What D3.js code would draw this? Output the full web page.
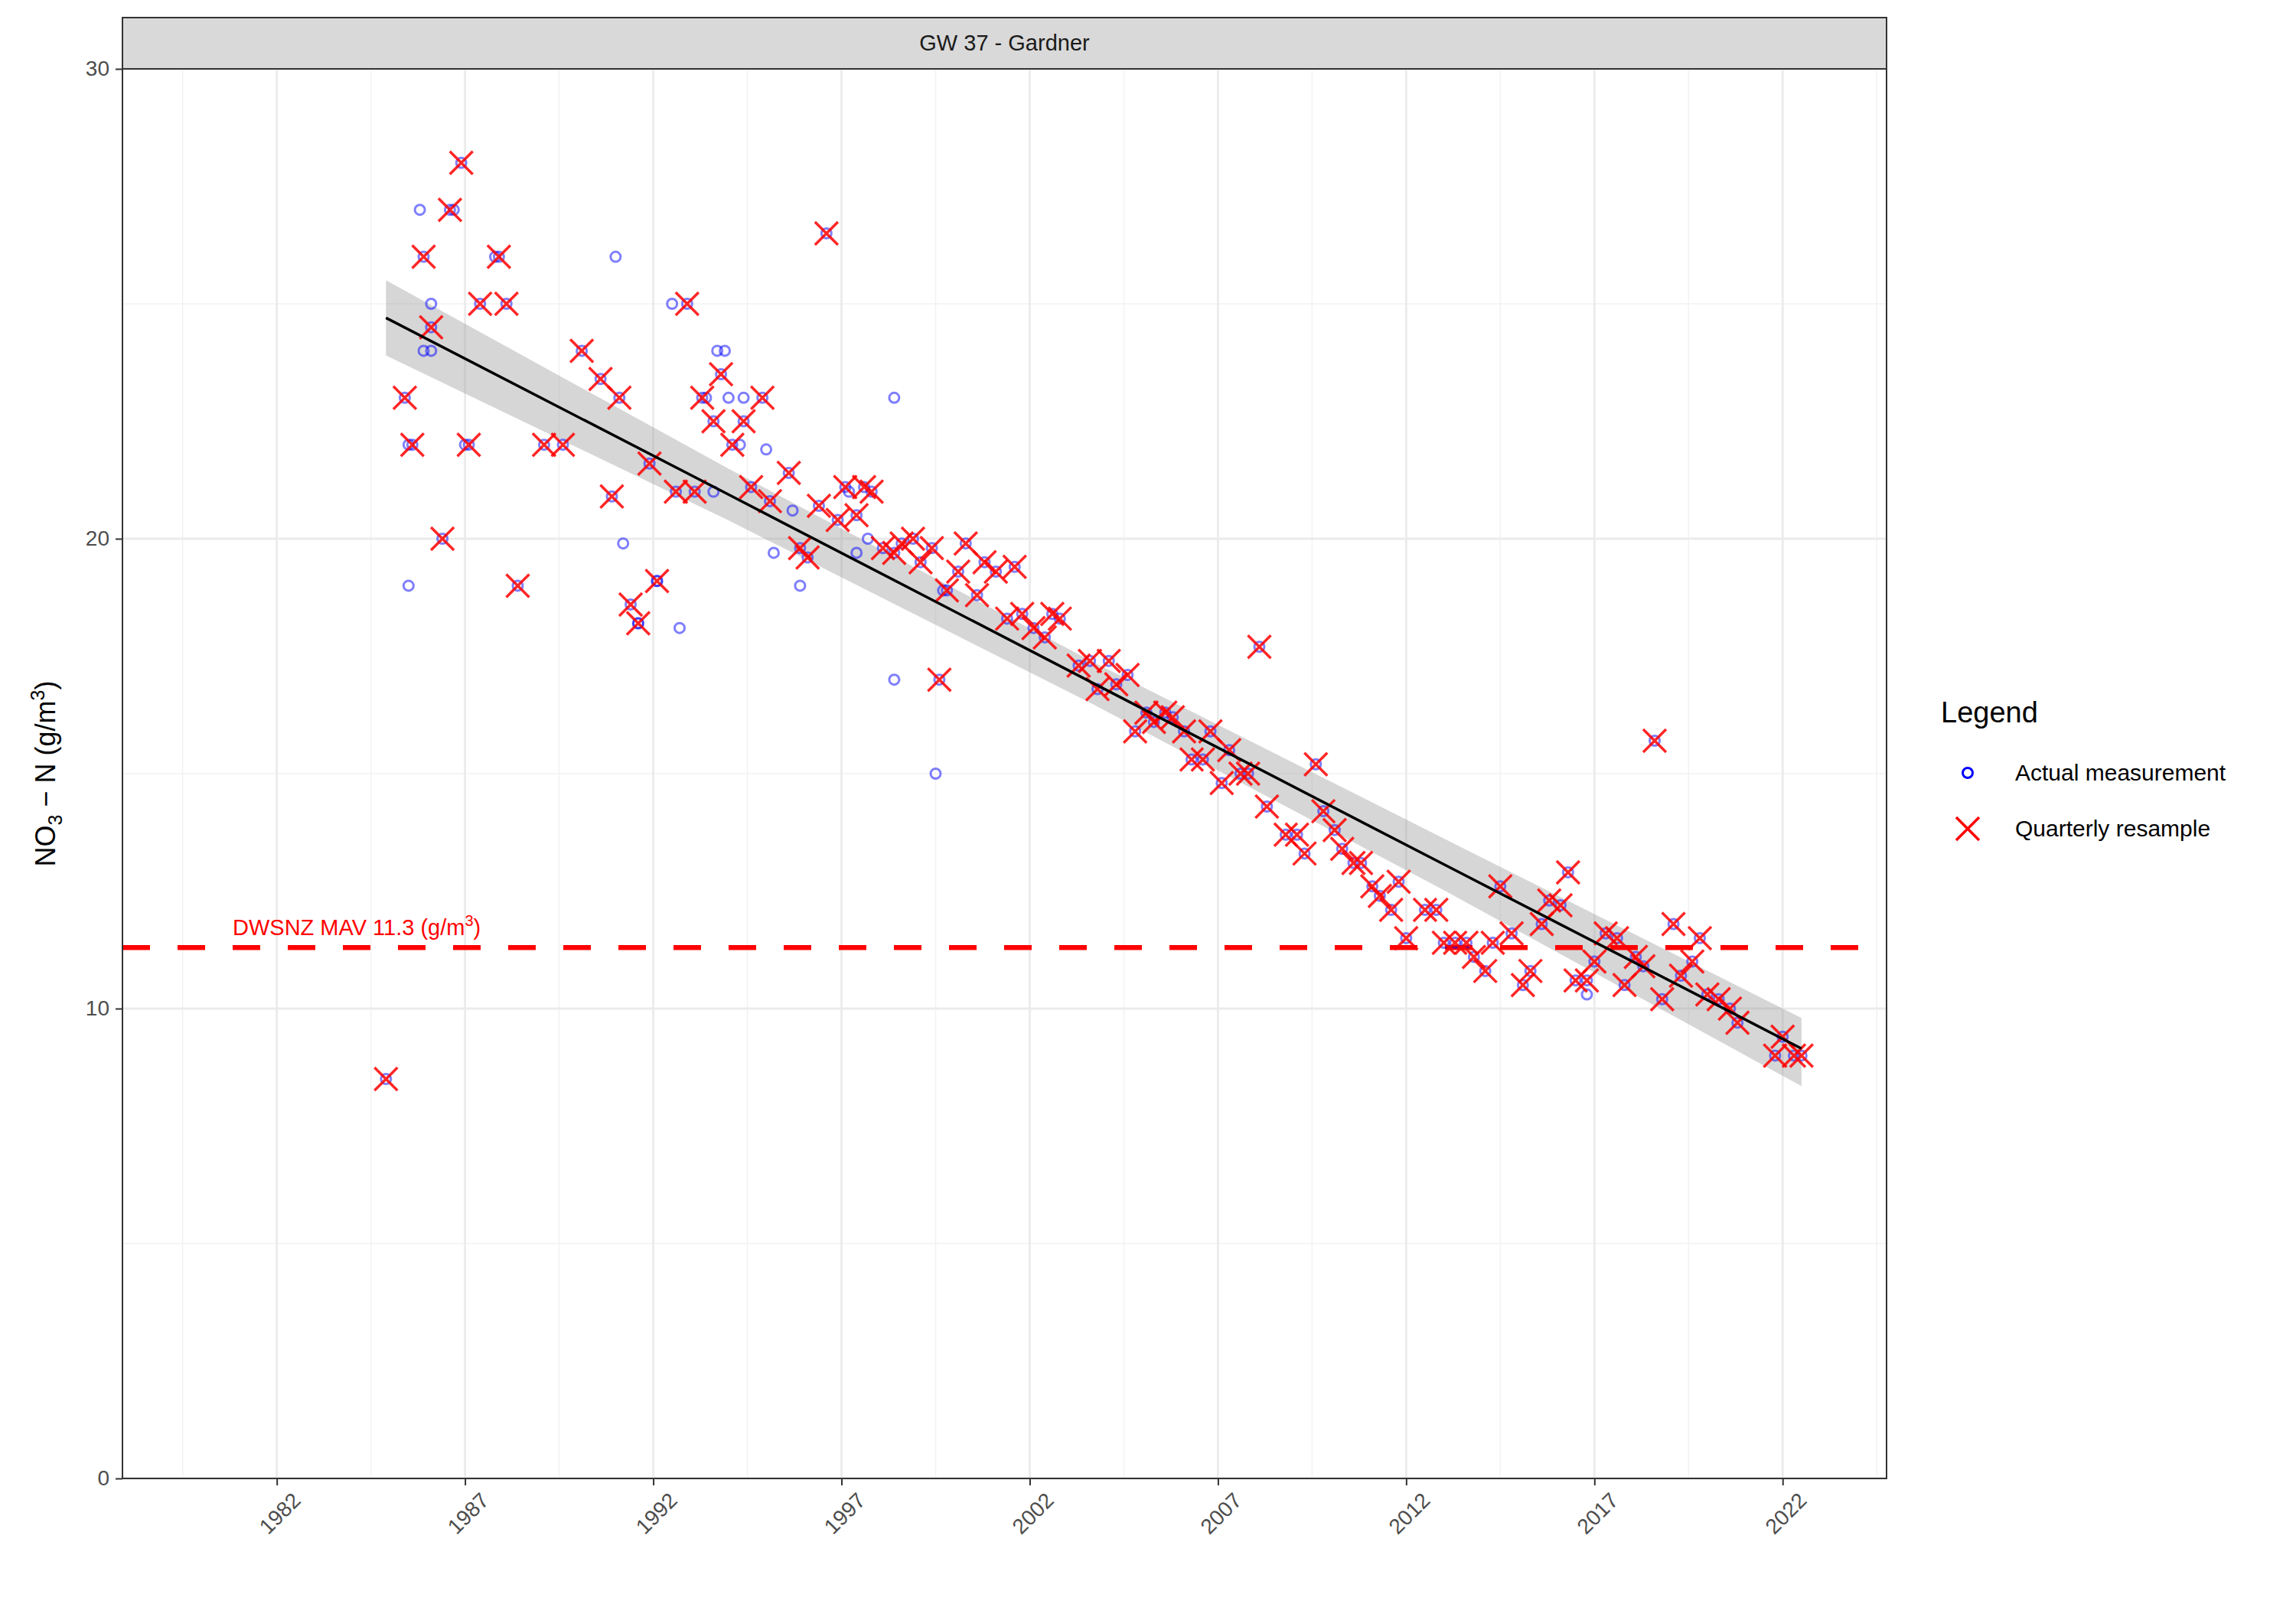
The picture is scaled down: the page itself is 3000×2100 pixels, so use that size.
<!DOCTYPE html>
<html>
<head>
<meta charset="utf-8">
<script src="https://cdn.jsdelivr.net/npm/d3@7"></script>
<style>
  body { margin: 0; background: #fff; }
  text { font-family: Arial, "Liberation Sans", sans-serif; }
</style>
</head>
<body>
<div id="chart"></div>
<script>
// quarterly resample (decimal year, g/m3)
var quarterYears = [1984.9,1985.4,1985.6,1985.9,1986.1,1986.4,1986.6,1986.9,1987.1,1987.4,1987.9,1988.1,1988.4,1989.1,1989.6,1990.1,1990.6,1990.9,1991.1,1991.4,1991.6,1991.9,1992.1,1992.6,1992.9,1993.1,1993.3,1993.6,1993.8,1994.1,1994.4,1994.6,1994.9,1995.1,1995.6,1995.9,1996.1,1996.4,1996.6,1996.9,1997.1,1997.4,1997.6,1997.8,1998.1,1998.4,1998.6,1998.9,1999.1,1999.4,1999.6,1999.8,2000.1,2000.3,2000.6,2000.8,2001.1,2001.4,2001.6,2001.8,2002.1,2002.4,2002.6,2002.8,2003.3,2003.6,2003.8,2004.1,2004.3,2004.6,2004.8,2005.1,2005.3,2005.6,2005.8,2006.1,2006.3,2006.6,2006.8,2007.1,2007.3,2007.6,2007.8,2008.1,2008.3,2008.8,2009.1,2009.3,2009.6,2009.8,2010.1,2010.3,2010.6,2010.8,2011.1,2011.3,2011.6,2011.8,2012.0,2012.5,2012.8,2013.0,2013.3,2013.6,2013.8,2014.1,2014.3,2014.5,2014.8,2015.1,2015.3,2015.6,2015.8,2016.1,2016.3,2016.5,2016.8,2017.0,2017.3,2017.6,2017.8,2018.1,2018.3,2018.6,2018.8,2019.1,2019.3,2019.6,2019.8,2020.0,2020.3,2020.6,2020.8,2021.8,2022.0,2022.3,2022.5];
var quarterValues = [8.5,23.0,22.0,26.0,24.5,20.0,27.0,28.0,22.0,25.0,26.0,25.0,19.0,22.0,22.0,24.0,23.4,20.9,23.0,18.6,18.2,21.6,19.1,21.0,25.0,21.0,23.0,22.5,23.5,22.0,22.5,21.1,23.0,20.8,21.4,19.8,19.6,20.7,26.5,20.4,21.1,20.5,21.1,21.0,19.8,19.7,19.9,20.0,19.5,19.8,17.0,18.9,19.3,19.9,18.8,19.5,19.3,18.3,19.4,18.4,18.1,17.9,18.4,18.3,17.3,17.4,16.8,17.4,16.9,17.1,15.9,16.3,16.1,16.3,16.2,15.9,15.3,15.3,15.9,14.8,15.5,15.0,15.0,17.7,14.3,13.7,13.7,13.3,15.2,14.2,13.8,13.4,13.1,13.1,12.6,12.4,12.1,12.7,11.5,12.1,12.1,11.4,11.4,11.4,11.1,10.8,11.4,12.6,11.6,10.5,10.8,11.8,12.3,12.2,12.9,10.6,10.6,11.0,11.6,11.5,10.5,11.1,10.9,15.7,10.2,11.8,10.7,11.0,11.5,10.3,10.2,10.0,9.7,9.0,9.4,9.0,9.0];

// actual measurements (those not hidden under a quarterly cross)
var actualYears = [1985.5,1985.5,1985.8,1985.9,1986.1,1986.1,1986.7,1987.0,1987.8,1991.0,1991.2,1991.6,1992.1,1992.5,1992.7,1993.4,1993.6,1993.7,1993.9,1994.0,1994.3,1994.4,1995.0,1995.2,1995.7,1995.9,1997.2,1997.4,1997.7,1998.4,1998.4,1999.5,1999.7,2016.8];
var actualValues = [19.0,22.0,27.0,24.0,24.0,25.0,27.0,22.0,26.0,26.0,19.9,18.2,19.1,25.0,18.1,23.0,21.0,24.0,24.0,23.0,22.0,23.0,21.9,19.7,20.6,19.0,21.0,19.7,20.0,23.0,17.0,15.0,18.9,10.3];

// linear trend with confidence ribbon
var trendYears = [1984.9, 1994.0, 2003.7, 2013.0, 2022.5];
var trendFit = [24.7, 20.94, 16.92, 13.07, 9.15];
var trendLow = [23.9, 20.39, 16.47, 12.52, 8.35];
var trendHigh = [25.5, 21.49, 17.37, 13.62, 9.8];

var xTicks = [1982, 1987, 1992, 1997, 2002, 2007, 2012, 2017, 2022];
var xMinor = [1979.5, 1984.5, 1989.5, 1994.5, 1999.5, 2004.5, 2009.5, 2014.5, 2019.5, 2024.5];
var yTicks = [0, 10, 20, 30];
var yMinor = [5, 15, 25];
var mav = 11.3;

var W = 3000, H = 2100;
var pL = 160, pR = 2465, pT = 90, pB = 1932;

var svg = d3.select("#chart").append("svg")
    .attr("width", W).attr("height", H);

var x = d3.scaleLinear().domain([1977.9, 2024.76]).range([pL, pR]);
var y = d3.scaleLinear().domain([0, 30]).range([pB, pT]);

// grid
var grid = svg.append("g");
grid.selectAll(".ymin").data(yMinor).enter().append("line")
    .attr("x1", pL).attr("x2", pR)
    .attr("y1", function (d) { return y(d); }).attr("y2", function (d) { return y(d); })
    .attr("stroke", "#f2f2f2").attr("stroke-width", 1.5);
grid.selectAll(".xmin").data(xMinor.filter(function (d) { return x(d) < pR; })).enter().append("line")
    .attr("y1", pT).attr("y2", pB)
    .attr("x1", function (d) { return x(d); }).attr("x2", function (d) { return x(d); })
    .attr("stroke", "#f2f2f2").attr("stroke-width", 1.5);
grid.selectAll(".ymaj").data(yTicks).enter().append("line")
    .attr("x1", pL).attr("x2", pR)
    .attr("y1", function (d) { return y(d); }).attr("y2", function (d) { return y(d); })
    .attr("stroke", "#ebebeb").attr("stroke-width", 2.8);
grid.selectAll(".xmaj").data(xTicks).enter().append("line")
    .attr("y1", pT).attr("y2", pB)
    .attr("x1", function (d) { return x(d); }).attr("x2", function (d) { return x(d); })
    .attr("stroke", "#ebebeb").attr("stroke-width", 2.8);

// ribbon
var ribbon = d3.area()
    .x(function (d, i) { return x(trendYears[i]); })
    .y0(function (d, i) { return y(trendLow[i]); })
    .y1(function (d, i) { return y(trendHigh[i]); });
svg.append("path").datum(trendYears).attr("d", ribbon)
    .attr("fill", "#999").attr("fill-opacity", 0.4);

// MAV line
svg.append("line")
    .attr("x1", pL).attr("x2", pR)
    .attr("y1", y(mav)).attr("y2", y(mav))
    .attr("stroke", "#ff0000").attr("stroke-width", 6.5)
    .attr("stroke-dasharray", "36,36");
var lab = svg.append("text")
    .attr("x", 304).attr("y", y(mav) - 16)
    .attr("fill", "#ff0000").attr("font-size", 29);
lab.append("tspan").text("DWSNZ MAV 11.3 (g/m");
lab.append("tspan").attr("font-size", 20).attr("dy", -12).text("3");
lab.append("tspan").attr("dy", 12).text(")");

// points
svg.append("g").selectAll("circle")
    .data(actualYears.concat(quarterYears))
    .enter().append("circle")
    .attr("cx", function (d) { return x(d); })
    .attr("cy", function (d, i) {
        var v = i < actualYears.length ? actualValues[i] : quarterValues[i - actualYears.length];
        return y(v);
    })
    .attr("r", 6.5).attr("fill", "none")
    .attr("stroke", "#0000ff").attr("stroke-opacity", 0.5).attr("stroke-width", 3);

var s = 15;
var cross = "M" + -s + "," + -s + "L" + s + "," + s + "M" + -s + "," + s + "L" + s + "," + -s;
svg.append("g").selectAll("path")
    .data(quarterYears)
    .enter().append("path")
    .attr("d", cross)
    .attr("transform", function (d, i) { return "translate(" + x(d) + "," + y(quarterValues[i]) + ")"; })
    .attr("fill", "none").attr("stroke", "#ff0000").attr("stroke-opacity", 0.85).attr("stroke-width", 3.5);

var line = d3.line()
    .x(function (d, i) { return x(trendYears[i]); })
    .y(function (d, i) { return y(trendFit[i]); });
svg.append("path").datum(trendYears).attr("d", line)
    .attr("fill", "none").attr("stroke", "#000").attr("stroke-width", 3.5);

// panel border and strip
svg.append("rect").attr("x", pL).attr("y", pT).attr("width", pR - pL).attr("height", pB - pT)
    .attr("fill", "none").attr("stroke", "#333").attr("stroke-width", 2);
svg.append("rect").attr("x", pL).attr("y", 23).attr("width", pR - pL).attr("height", pT - 23)
    .attr("fill", "#d9d9d9").attr("stroke", "#333").attr("stroke-width", 2);
svg.append("text").attr("x", (pL + pR) / 2).attr("y", 66)
    .attr("text-anchor", "middle").attr("font-size", 29).attr("fill", "#1a1a1a")
    .text("GW 37 - Gardner");

// axes
var xAxis = svg.append("g").attr("transform", "translate(0," + pB + ")")
    .call(d3.axisBottom(x).tickValues(xTicks).tickFormat(d3.format("d")).tickSize(9).tickPadding(6));
xAxis.select(".domain").remove();
xAxis.selectAll("line").attr("stroke", "#333").attr("stroke-width", 2);
xAxis.selectAll("text")
    .attr("font-size", 28).attr("fill", "#4d4d4d")
    .attr("text-anchor", "end").attr("dy", "0.7em").attr("dx", "0")
    .attr("transform", "translate(8,6) rotate(-45)");

var yAxis = svg.append("g").attr("transform", "translate(" + pL + ",0)")
    .call(d3.axisLeft(y).tickValues(yTicks).tickSize(9).tickPadding(8));
yAxis.select(".domain").remove();
yAxis.selectAll("line").attr("stroke", "#333").attr("stroke-width", 2);
yAxis.selectAll("text").attr("font-size", 28).attr("fill", "#4d4d4d");

var yt = svg.append("text")
    .attr("transform", "translate(72," + ((pT + pB) / 2) + ") rotate(-90)")
    .attr("text-anchor", "middle").attr("font-size", 36).attr("fill", "#000");
yt.append("tspan").text("NO");
yt.append("tspan").attr("font-size", 25).attr("dy", 9).text("3");
yt.append("tspan").attr("dy", -9).text(" \u2212 N (g/m");
yt.append("tspan").attr("font-size", 25).attr("dy", -14).text("3");
yt.append("tspan").attr("dy", 14).text(")");

// legend
svg.append("text").attr("x", 2536).attr("y", 944).attr("font-size", 38).attr("fill", "#000").text("Legend");
svg.append("circle").attr("cx", 2571).attr("cy", 1010).attr("r", 6.5)
    .attr("fill", "none").attr("stroke", "#0000ff").attr("stroke-width", 3);
svg.append("text").attr("x", 2633).attr("y", 1020).attr("font-size", 30).attr("fill", "#000").text("Actual measurement");
svg.append("path").attr("d", cross).attr("transform", "translate(2571,1083)")
    .attr("fill", "none").attr("stroke", "#ff0000").attr("stroke-width", 3.5);
svg.append("text").attr("x", 2633).attr("y", 1093).attr("font-size", 30).attr("fill", "#000").text("Quarterly resample");
</script>
</body>
</html>
